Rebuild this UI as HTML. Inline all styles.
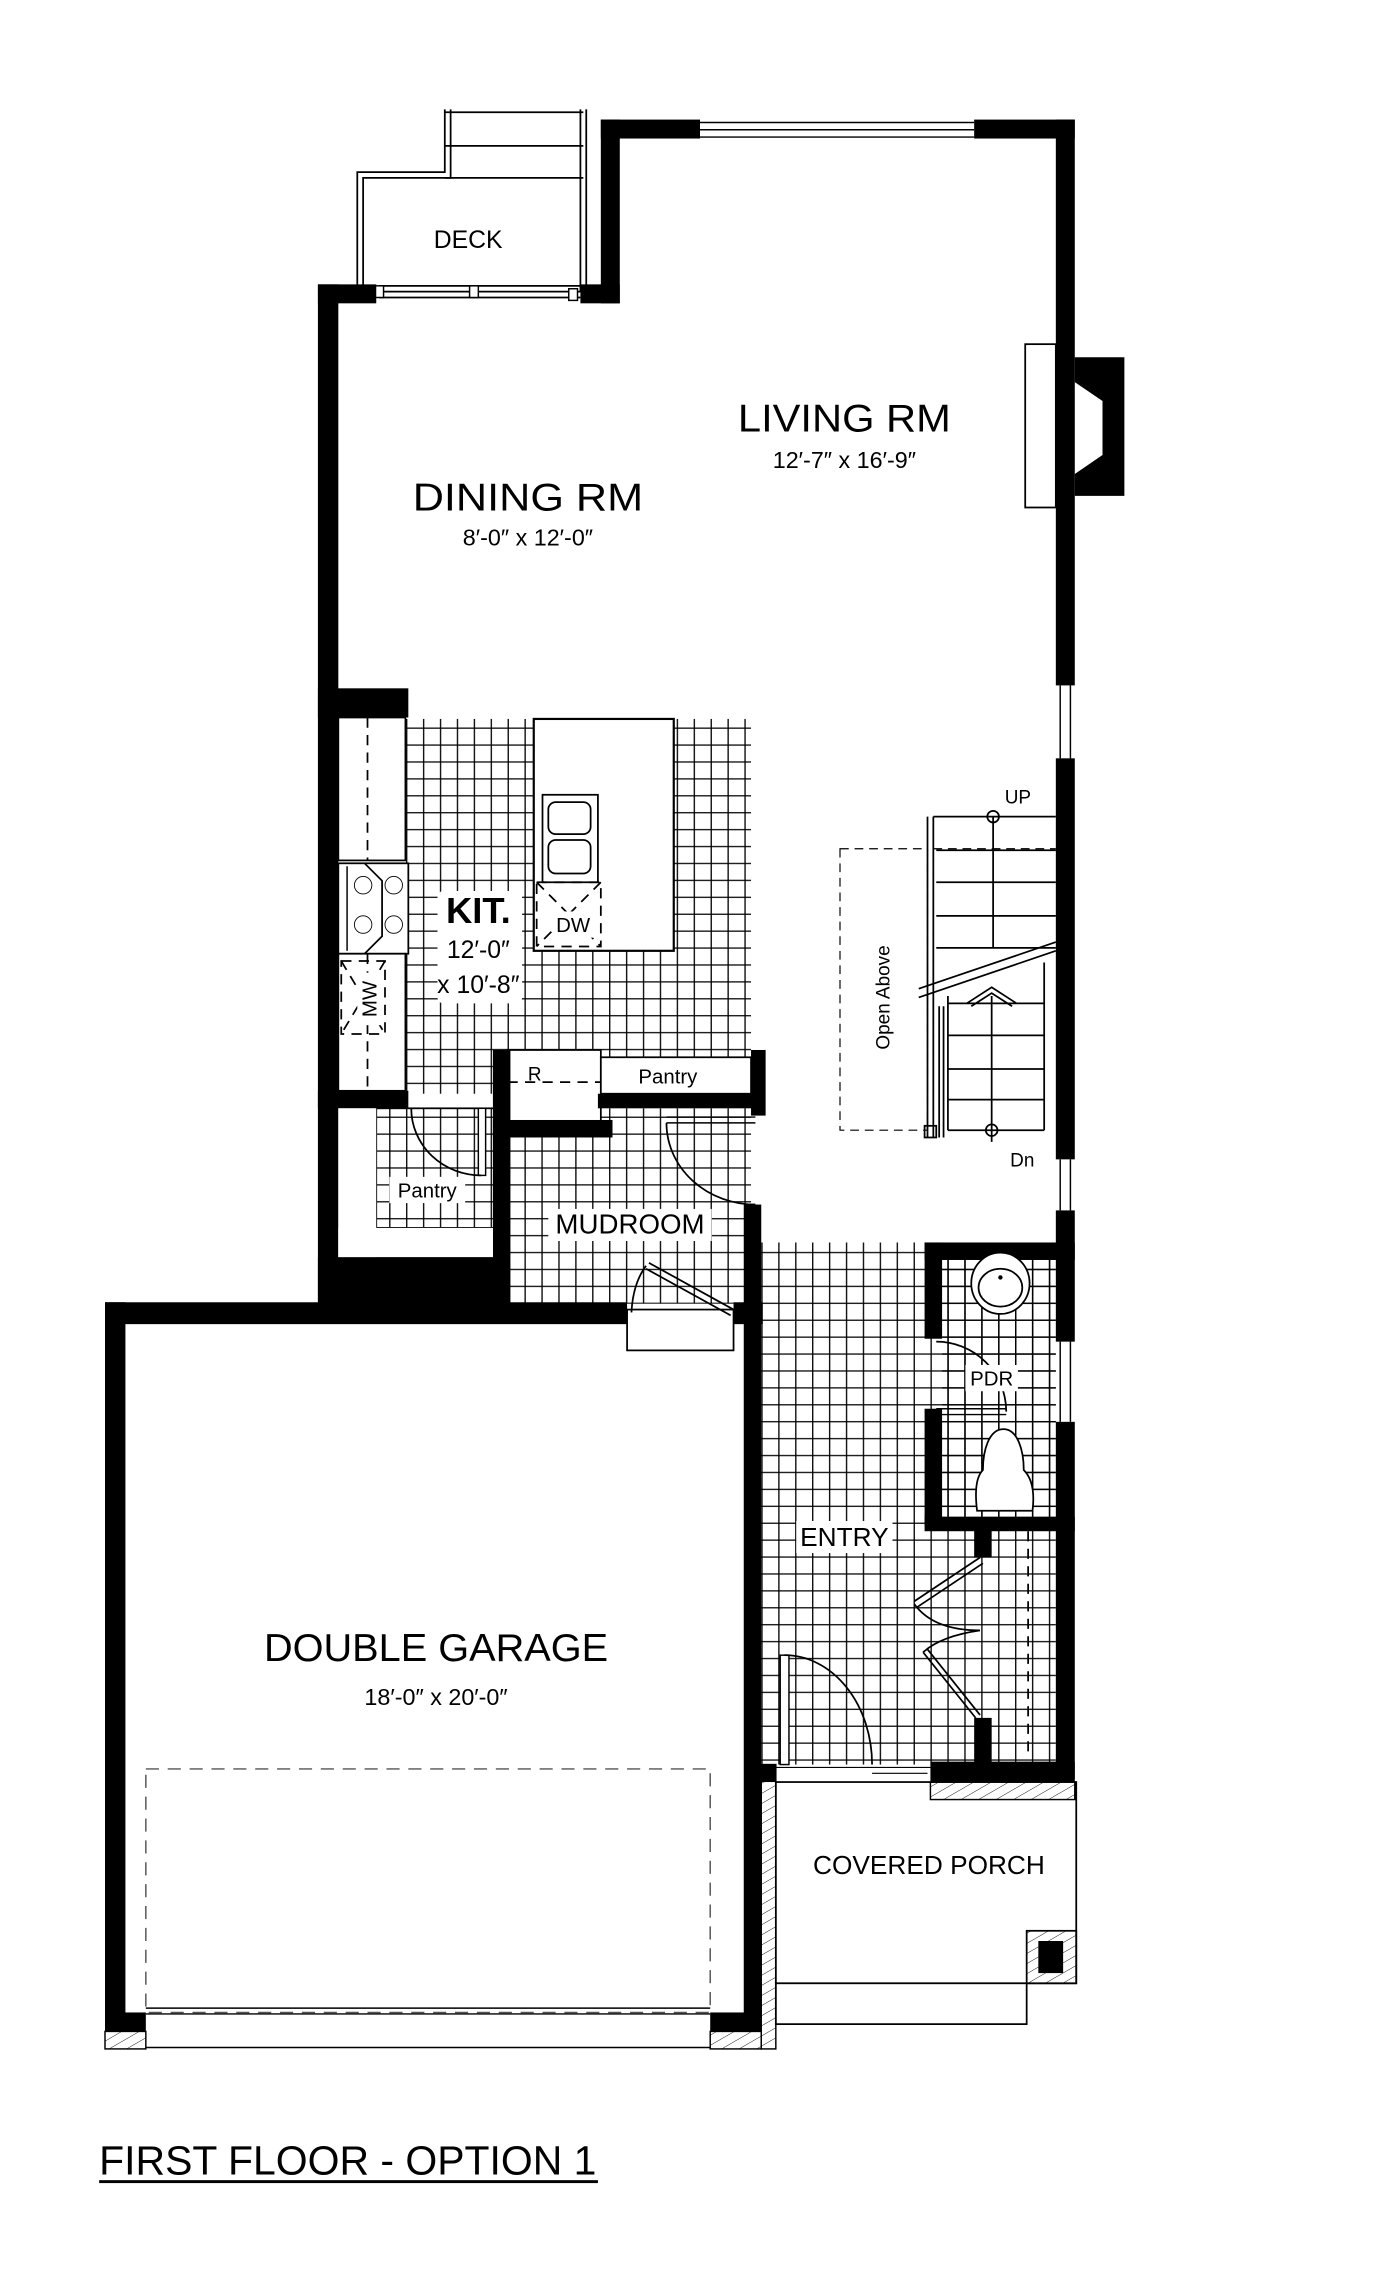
<!DOCTYPE html>
<html><head><meta charset="utf-8"><style>
html,body{margin:0;padding:0;background:#fff;}
svg{display:block;}
text{font-family:"Liberation Sans",sans-serif;fill:#000;}
</style></head><body>
<svg width="1400" height="2277" viewBox="0 0 960 1561.4" preserveAspectRatio="none" xmlns="http://www.w3.org/2000/svg">
<defs>
<pattern id="tile" x="0" y="0" width="11.6" height="11.6" patternUnits="userSpaceOnUse">
<path d="M0 0.5H11.6M0.5 0V11.6" stroke="#000" stroke-width="0.9" fill="none"/>
</pattern>
<pattern id="hatch" width="6" height="6" patternUnits="userSpaceOnUse" patternTransform="rotate(60)">
<line x1="0" y1="0" x2="0" y2="6" stroke="#000" stroke-width="0.6"/>
</pattern>
</defs>
<rect width="960" height="1561.4" fill="#fff"/>

<rect x="278" y="493" width="237" height="257" fill="url(#tile)"/>
<rect x="258" y="760" width="82" height="82" fill="url(#tile)"/>
<rect x="345" y="760" width="170" height="134" fill="url(#tile)"/>
<rect x="520" y="852" width="204" height="358" fill="url(#tile)"/>
<rect x="366" y="493" width="96" height="159" fill="#fff" stroke="#000" stroke-width="1.5"/>
<rect x="348" y="720" width="64" height="50" fill="#fff" stroke="#000" stroke-width="1.2"/>
<rect x="412" y="725" width="103" height="25" fill="#fff" stroke="#000" stroke-width="1.2"/>
<rect x="522" y="770" width="202" height="82" fill="#fff"/>

<g fill="none" stroke="#000" stroke-width="1.2">
<path d="M245 200V118H305V75M249 200V122H309V75"/>
<path d="M398 75V200M402 75V200"/>
<path d="M305 77H400M305 100H400M305 122H400"/>
<path d="M260 196H398M260 200H398M260 204H398"/>
</g>
<rect x="257" y="196" width="6" height="8" fill="#fff" stroke="#000"/>
<rect x="322" y="196" width="6" height="8" fill="#fff" stroke="#000"/>
<rect x="390" y="198" width="6" height="8" fill="#fff" stroke="#000"/>

<g fill="#000">
<rect x="218" y="195" width="14" height="712"/>
<rect x="218" y="195" width="40" height="13"/>
<rect x="398" y="195" width="27" height="13"/>
<rect x="412" y="82" width="13" height="126"/>
<rect x="412" y="82" width="68" height="13"/>
<rect x="668" y="82" width="69" height="13"/>
<rect x="724" y="82" width="13" height="388"/>
<polygon points="737,245 771,245 771,340 737,340 737,325 756,312 756,275 737,262"/>
<rect x="724" y="520" width="13" height="275"/>
<rect x="724" y="830" width="13" height="90"/>
<rect x="724" y="975" width="13" height="245"/>
<rect x="218" y="472" width="62" height="20"/>
<rect x="218" y="748" width="62" height="12"/>
<rect x="218" y="862" width="127" height="45"/>
<rect x="338" y="720" width="12" height="187"/>
<rect x="338" y="768" width="82" height="12"/>
<rect x="410" y="750" width="112" height="10"/>
<rect x="515" y="720" width="10" height="45"/>
<rect x="510" y="826" width="12" height="80"/>
<rect x="72" y="893" width="358" height="15"/>
<rect x="503" y="893" width="20" height="15"/>
<rect x="72" y="893" width="14" height="500"/>
<rect x="510" y="893" width="12" height="500"/>
<rect x="72" y="1380" width="28" height="13"/>
<rect x="487" y="1380" width="35" height="13"/>
<rect x="520" y="1210" width="12" height="12"/>
<rect x="638" y="1208" width="99" height="14"/>
<rect x="634" y="852" width="103" height="12"/>
<rect x="634" y="852" width="12" height="66"/>
<rect x="634" y="966" width="12" height="80"/>
<rect x="634" y="1040" width="103" height="10"/>
<rect x="668" y="1048" width="12" height="20"/>
<rect x="668" y="1178" width="12" height="32"/>
</g>
<g stroke="#000" stroke-width="1" fill="none">
<path d="M480 84H668M480 89H668M480 94H668"/>
<path d="M727 470V520M734 470V520M727 795V830M734 795V830M727 920V975M734 920V975"/>
</g>
<rect x="703" y="236" width="21" height="112" fill="#fff" stroke="#000" stroke-width="1.2"/>

<g fill="#fff" stroke="#000" stroke-width="1.2">
<rect x="232" y="492" width="46" height="98"/>
<rect x="232" y="592" width="48" height="62"/>
<rect x="232" y="654" width="46" height="94"/>
<rect x="372" y="545" width="38" height="60"/>
<rect x="376" y="550" width="29" height="22" rx="5"/>
<rect x="376" y="576" width="29" height="23" rx="5"/>
</g>
<line x1="238" y1="594" x2="238" y2="652" stroke="#000" stroke-width="1"/>
<g fill="none" stroke="#000" stroke-width="0.6">
<circle cx="249" cy="607" r="6"/><circle cx="270" cy="607" r="6"/>
<circle cx="249" cy="634" r="6"/><circle cx="270" cy="634" r="6"/>
</g>
<g fill="none" stroke="#000" stroke-width="1.2" stroke-dasharray="7,5">
<line x1="252" y1="492" x2="252" y2="590"/>
<line x1="252" y1="654" x2="252" y2="748"/>
<rect x="368" y="605" width="44" height="44"/>
<path d="M368 605L412 649M412 605L368 649"/>
<rect x="234" y="659" width="30" height="50"/>
<path d="M234 659L264 709M264 659L234 709"/>
<line x1="348" y1="742" x2="412" y2="742"/>
<line x1="705" y1="1050" x2="705" y2="1205"/>
</g>
<path d="M250 592L262 604V642L250 654" fill="none" stroke="#000" stroke-width="1.2"/>

<rect x="258" y="760" width="82" height="82" fill="none" stroke="#000" stroke-width="1.2"/>
<rect x="232" y="760" width="26" height="102" fill="#fff"/>
<rect x="232" y="842" width="106" height="20" fill="#fff"/>
<rect x="328" y="760" width="5" height="46" fill="#fff" stroke="#000"/>
<path d="M282 760A48 46 0 0 0 330 806" fill="none" stroke="#000" stroke-width="1.2"/>

<path d="M457 766H518M457 770H518" stroke="#000" fill="none"/>
<path d="M457 770A61 56 0 0 0 518 826" fill="none" stroke="#000" stroke-width="1.2"/>
<rect x="430" y="898" width="73" height="28" fill="#fff" stroke="#000" stroke-width="1.2"/>
<path d="M443 870L501 902M445 866L503 898" stroke="#000" stroke-width="1.2"/>
<path d="M433 900Q434 880 443 868" fill="none" stroke="#000" stroke-width="1.2"/>

<g stroke="#000" stroke-width="1.2" fill="none">
<path d="M640 560H724M642 583H724M642 605H724M642 628H724M642 650H724"/>
<path d="M681 560V650"/>
<circle cx="681" cy="560" r="4"/>
<path d="M636 560V780M640 560V780"/>
<path d="M630 678L724 646M630 684L724 652"/>
<path d="M650 683V775M650 688H716M650 710H716M650 733H716M650 754H716M650 775H716M716 660V775"/>
<path d="M680 683V783"/>
<circle cx="680" cy="775" r="4"/>
<path d="M663 688L680 677L697 688M666 690L680 681L694 690"/>
<path d="M644 690V780M647 690V780"/>
<rect x="634" y="772" width="8" height="8"/>
</g>
<rect x="576" y="582" width="60" height="193" fill="none" stroke="#000" stroke-width="0.8" stroke-dasharray="6,4"/>
<line x1="640" y1="582" x2="724" y2="582" stroke="#000" stroke-width="0.8" stroke-dasharray="6,4"/>

<rect x="646" y="864" width="78" height="176" fill="url(#tile)"/>
<ellipse cx="686" cy="880" rx="20" ry="21" fill="#fff" stroke="#000" stroke-width="1.2"/>
<ellipse cx="686" cy="883" rx="15" ry="13" fill="#fff" stroke="#000" stroke-width="1.2"/>
<circle cx="686" cy="876" r="1.5" fill="#000"/>
<path d="M688 980C678 980 674 995 674 1008C670 1012 668 1020 670 1036H708C710 1020 706 1012 702 1008C702 995 698 980 688 980Z" fill="#fff" stroke="#000" stroke-width="1.2"/>
<path d="M642 966H690M642 970H690" stroke="#000" fill="none"/>
<path d="M642 920A48 48 0 0 1 690 968" fill="none" stroke="#000" stroke-width="1.2"/>

<g stroke="#000" stroke-width="1.2" fill="none">
<path d="M672 1068L627 1098M674 1072L629 1102"/>
<path d="M627 1100Q640 1118 672 1118"/>
<path d="M672 1118Q645 1122 633 1133"/>
<path d="M633 1133L669 1178M636 1131L672 1176"/>
</g>

<rect x="535" y="1135" width="6" height="75" fill="#fff" stroke="#000"/>
<path d="M538 1135A60 75 0 0 1 598 1210" fill="none" stroke="#000" stroke-width="1.2"/>
<path d="M532 1212H638M598 1212H636M598 1216H636" stroke="#000" stroke-width="0.8"/>

<rect x="532" y="1222" width="206" height="138" fill="#fff" stroke="#000" stroke-width="1.2"/>
<rect x="532" y="1360" width="172" height="28" fill="#fff" stroke="#000" stroke-width="1.2"/>
<rect x="522" y="1210" width="10" height="195" fill="url(#hatch)" stroke="#000"/>
<rect x="638" y="1222" width="99" height="12" fill="url(#hatch)" stroke="#000"/>
<rect x="704" y="1324" width="34" height="36" fill="url(#hatch)" stroke="#000" stroke-width="1.2"/>
<rect x="712" y="1331" width="17" height="22" fill="#000"/>

<rect x="100" y="1213" width="387" height="167" fill="none" stroke="#555" stroke-width="1" stroke-dasharray="9,6"/>
<path d="M100 1377H487M100 1381H487" stroke="#000"/>
<path d="M100 1404H487" stroke="#000" stroke-width="1"/>
<rect x="72" y="1393" width="28" height="12" fill="url(#hatch)" stroke="#000"/>
<rect x="487" y="1393" width="35" height="12" fill="url(#hatch)" stroke="#000"/>

<!-- white label backgrounds -->
<g fill="#fff">
<rect x="300" y="611" width="58" height="77" rx="4"/>
<rect x="380" y="625" width="28" height="18"/>
<rect x="245" y="667" width="17" height="36"/>
<rect x="267" y="807" width="52" height="18"/>
<rect x="376" y="829" width="112" height="22"/>
<rect x="662" y="936" width="36" height="18"/>
<rect x="546" y="1043" width="66" height="22"/>
</g>

<g text-anchor="middle">
<text x="321" y="170" font-size="17">DECK</text>
<text x="579" y="296" font-size="27" textLength="146" lengthAdjust="spacingAndGlyphs">LIVING RM</text>
<text x="579" y="321" font-size="16">12′-7″ x 16′-9″</text>
<text x="362" y="350" font-size="27" textLength="158" lengthAdjust="spacingAndGlyphs">DINING RM</text>
<text x="362" y="374" font-size="16">8′-0″ x 12′-0″</text>
<text x="328" y="633" font-size="25" font-weight="bold">KIT.</text>
<text x="328" y="657" font-size="17">12′-0″</text>
<text x="328" y="681" font-size="17">x 10′-8″</text>
<text x="393" y="639" font-size="14">DW</text>
<text transform="translate(258,685) rotate(-90)" font-size="14">MW</text>
<text x="458" y="743" font-size="14">Pantry</text>
<text x="293" y="821" font-size="14">Pantry</text>
<text x="432" y="846" font-size="19">MUDROOM</text>
<text x="698" y="551" font-size="13">UP</text>
<text x="701" y="800" font-size="13">Dn</text>
<text transform="translate(610,684) rotate(-90)" font-size="13">Open Above</text>
<text x="680" y="950" font-size="14">PDR</text>
<text x="579" y="1060" font-size="18">ENTRY</text>
<text x="299" y="1139" font-size="27" textLength="236" lengthAdjust="spacingAndGlyphs">DOUBLE GARAGE</text>
<text x="299" y="1169" font-size="16">18′-0″ x 20′-0″</text>
<text x="637" y="1285" font-size="18">COVERED PORCH</text>
</g>
<text x="362" y="741" font-size="13">R</text>
<text x="68" y="1491" font-size="28" textLength="341" lengthAdjust="spacingAndGlyphs">FIRST FLOOR - OPTION 1</text>
<rect x="68" y="1495" width="342" height="2" fill="#000"/>
</svg>
</body></html>
